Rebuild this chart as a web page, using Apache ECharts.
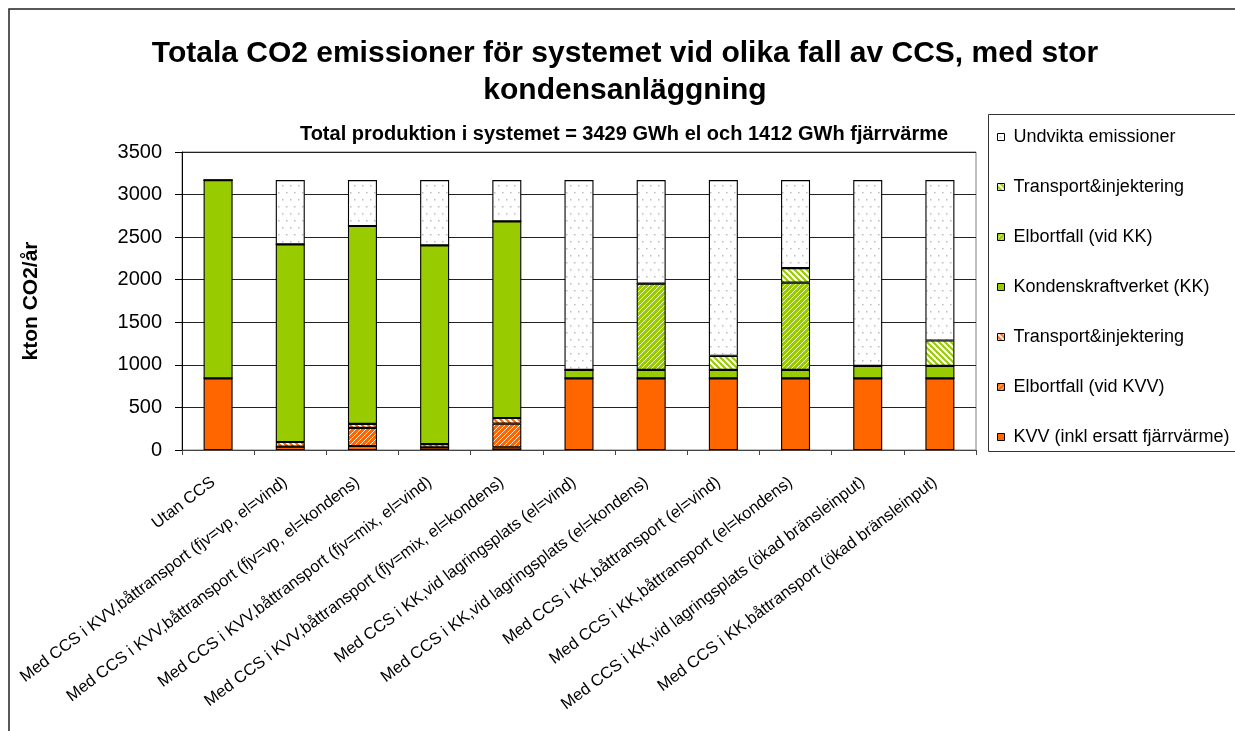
<!DOCTYPE html>
<html><head><meta charset="utf-8">
<script src="https://cdn.jsdelivr.net/npm/echarts@6/dist/echarts.min.js"></script>
<style>html,body{margin:0;padding:0;background:#fff}#c{width:1235px;height:731px}</style>
</head><body><div id="c"></div>
<script>
const categories = [
  "Utan CCS",
  "Med CCS i KVV,båttransport (fjv=vp, el=vind)",
  "Med CCS i KVV,båttransport (fjv=vp, el=kondens)",
  "Med CCS i KVV,båttransport (fjv=mix, el=vind)",
  "Med CCS i KVV,båttransport (fjv=mix, el=kondens)",
  "Med CCS i KK,vid lagringsplats (el=vind)",
  "Med CCS i KK,vid lagringsplats (el=kondens)",
  "Med CCS i KK,båttransport (el=vind)",
  "Med CCS i KK,båttransport (el=kondens)",
  "Med CCS i KK,vid lagringsplats (ökad bränsleinput)",
  "Med CCS i KK,båttransport (ökad bränsleinput)"
];
const kvv           = [842, 39, 47, 31, 31, 842, 842, 842, 842, 842, 842];
const elbortfallKVV = [0, 0, 212, 0, 278, 0, 0, 0, 0, 0, 0];
const transportKVV  = [0, 55, 47, 39, 67, 0, 0, 0, 0, 0, 0];
const kondenskraft  = [2328, 2321, 2325, 2333, 2310, 99, 99, 99, 99, 146, 146];
const elbortfallKK  = [0, 0, 0, 0, 0, 0, 1012, 0, 1024, 0, 0];
const transportKK   = [0, 0, 0, 0, 0, 0, 0, 165, 172, 0, 298];
const undvikta      = [0, 755, 539, 767, 484, 2229, 1217, 2064, 1033, 2182, 1884];

const seriesNames = [
  "KVV (inkl ersatt fjärrvärme)",
  "Elbortfall (vid KVV)",
  "Transport&injektering ",
  "Kondenskraftverket (KK)",
  "Elbortfall (vid KK)",
  "Transport&injektering",
  "Undvikta emissioner"
];
const titleText = "Totala CO2 emissioner för systemet vid olika fall av CCS, med stor\nkondensanläggning";
const subtitleText = "Total produktion i systemet = 3429 GWh el och 1412 GWh fjärrvärme";
const yAxisName = "kton CO2/år";

const ORANGE = '#FF6600', GREEN = '#99CC00';
const FONT = "'Liberation Sans', Arial, sans-serif";

function pattern(bg, kind) {
  let w = 6, h = 6;
  if (kind === 'dots') { w = 8; h = 14; }
  if (kind === 'thin') { w = 5; h = 5; }
  const c = document.createElement('canvas');
  c.width = w; c.height = h;
  const g = c.getContext('2d');
  g.fillStyle = bg; g.fillRect(0, 0, w, h);
  if (kind === 'dots') {
    g.fillStyle = '#bdbdbd';
    g.fillRect(2, 3, 1.5, 1.5);
    g.fillRect(6, 10, 1.5, 1.5);
  } else if (kind === 'wide') {
    g.strokeStyle = '#fff'; g.lineWidth = 2.1;
    for (let k = -1; k <= 1; k++) {
      g.beginPath(); g.moveTo(-1, k * w - 1); g.lineTo(w + 1, k * w + w + 1); g.stroke();
    }
  } else if (kind === 'thin') {
    g.strokeStyle = 'rgba(255,255,255,0.9)'; g.lineWidth = 1;
    for (let k = 0; k <= 2; k++) {
      g.beginPath(); g.moveTo(-1, k * w + 1); g.lineTo(w + 1, k * w - w - 1); g.stroke();
    }
  }
  return { image: c, repeat: 'repeat' };
}

const fills = [
  ORANGE,
  pattern(ORANGE, 'thin'),
  pattern(ORANGE, 'wide'),
  GREEN,
  pattern(GREEN, 'thin'),
  pattern(GREEN, 'wide'),
  pattern('#ffffff', 'dots')
];
const dataSets = [kvv, elbortfallKVV, transportKVV, kondenskraft, elbortfallKK, transportKK, undvikta];

const chart = echarts.init(document.getElementById('c'), null, { renderer: 'canvas' });
chart.setOption({
  backgroundColor: '#ffffff',
  animation: false,
  textStyle: { fontFamily: FONT },
  title: [
    { text: titleText, left: 620, top: 30, textAlign: 'center',
      textStyle: { fontFamily: FONT, fontSize: 30, fontWeight: 'bold', color: '#000', lineHeight: 37 } },
    { text: subtitleText, left: 619, top: 119, textAlign: 'center',
      textStyle: { fontFamily: FONT, fontSize: 20, fontWeight: 'bold', color: '#000' } }
  ],
  legend: {
    orient: 'vertical', left: 997, top: 127, padding: 0,
    icon: 'rect', itemWidth: 7, itemHeight: 7, itemGap: 30,
    data: seriesNames.slice().reverse(),
    textStyle: { fontFamily: FONT, fontSize: 18, color: '#000', lineHeight: 20, padding: [0, 0, 0, 4] },
    itemStyle: { borderColor: '#000', borderWidth: 1 }
  },
  graphic: [
    { type: 'rect', shape: { x: 9, y: 9, width: 1400, height: 900 }, style: { fill: 'none', stroke: '#222', lineWidth: 1.5 }, silent: true },
    { type: 'rect', shape: { x: 988.5, y: 114.5, width: 400, height: 337 }, style: { fill: 'none', stroke: '#333', lineWidth: 1 }, silent: true }
  ],
  grid: { left: 182, right: 259, top: 152, bottom: 281, show: true, borderColor: '#808080', borderWidth: 1, outerBoundsMode: 'none', containLabel: false },
  xAxis: {
    type: 'category', data: categories,
    axisLine: { lineStyle: { color: '#444', width: 1 } },
    axisTick: { show: true, length: 5, lineStyle: { color: '#444' } },
    axisLabel: { interval: 0, rotate: 37, margin: 27, fontSize: 16.5, color: '#000', fontFamily: FONT, padding: [0, 6, 0, 0] }
  },
  yAxis: {
    type: 'value', min: 0, max: 3500, interval: 500,
    name: yAxisName, nameLocation: 'middle', nameRotate: 90, nameGap: 140,
    nameTextStyle: { fontFamily: FONT, fontSize: 21, fontWeight: 'bold', color: '#000' },
    axisLine: { show: true, lineStyle: { color: '#000', width: 1 } },
    axisTick: { show: true, length: 7, lineStyle: { color: '#000' } },
    axisLabel: { fontSize: 20, color: '#000', margin: 20, fontFamily: FONT, formatter: v => String(v) },
    splitLine: { lineStyle: { color: '#222', width: 1 } }
  },
  series: seriesNames.map((n, i) => ({
    name: n, type: 'bar', stack: 'total', barWidth: 29,
    data: dataSets[i],
    itemStyle: { color: fills[i], borderColor: '#000', borderWidth: 1.1 },
    emphasis: { disabled: true }
  }))
});
</script></body></html>
